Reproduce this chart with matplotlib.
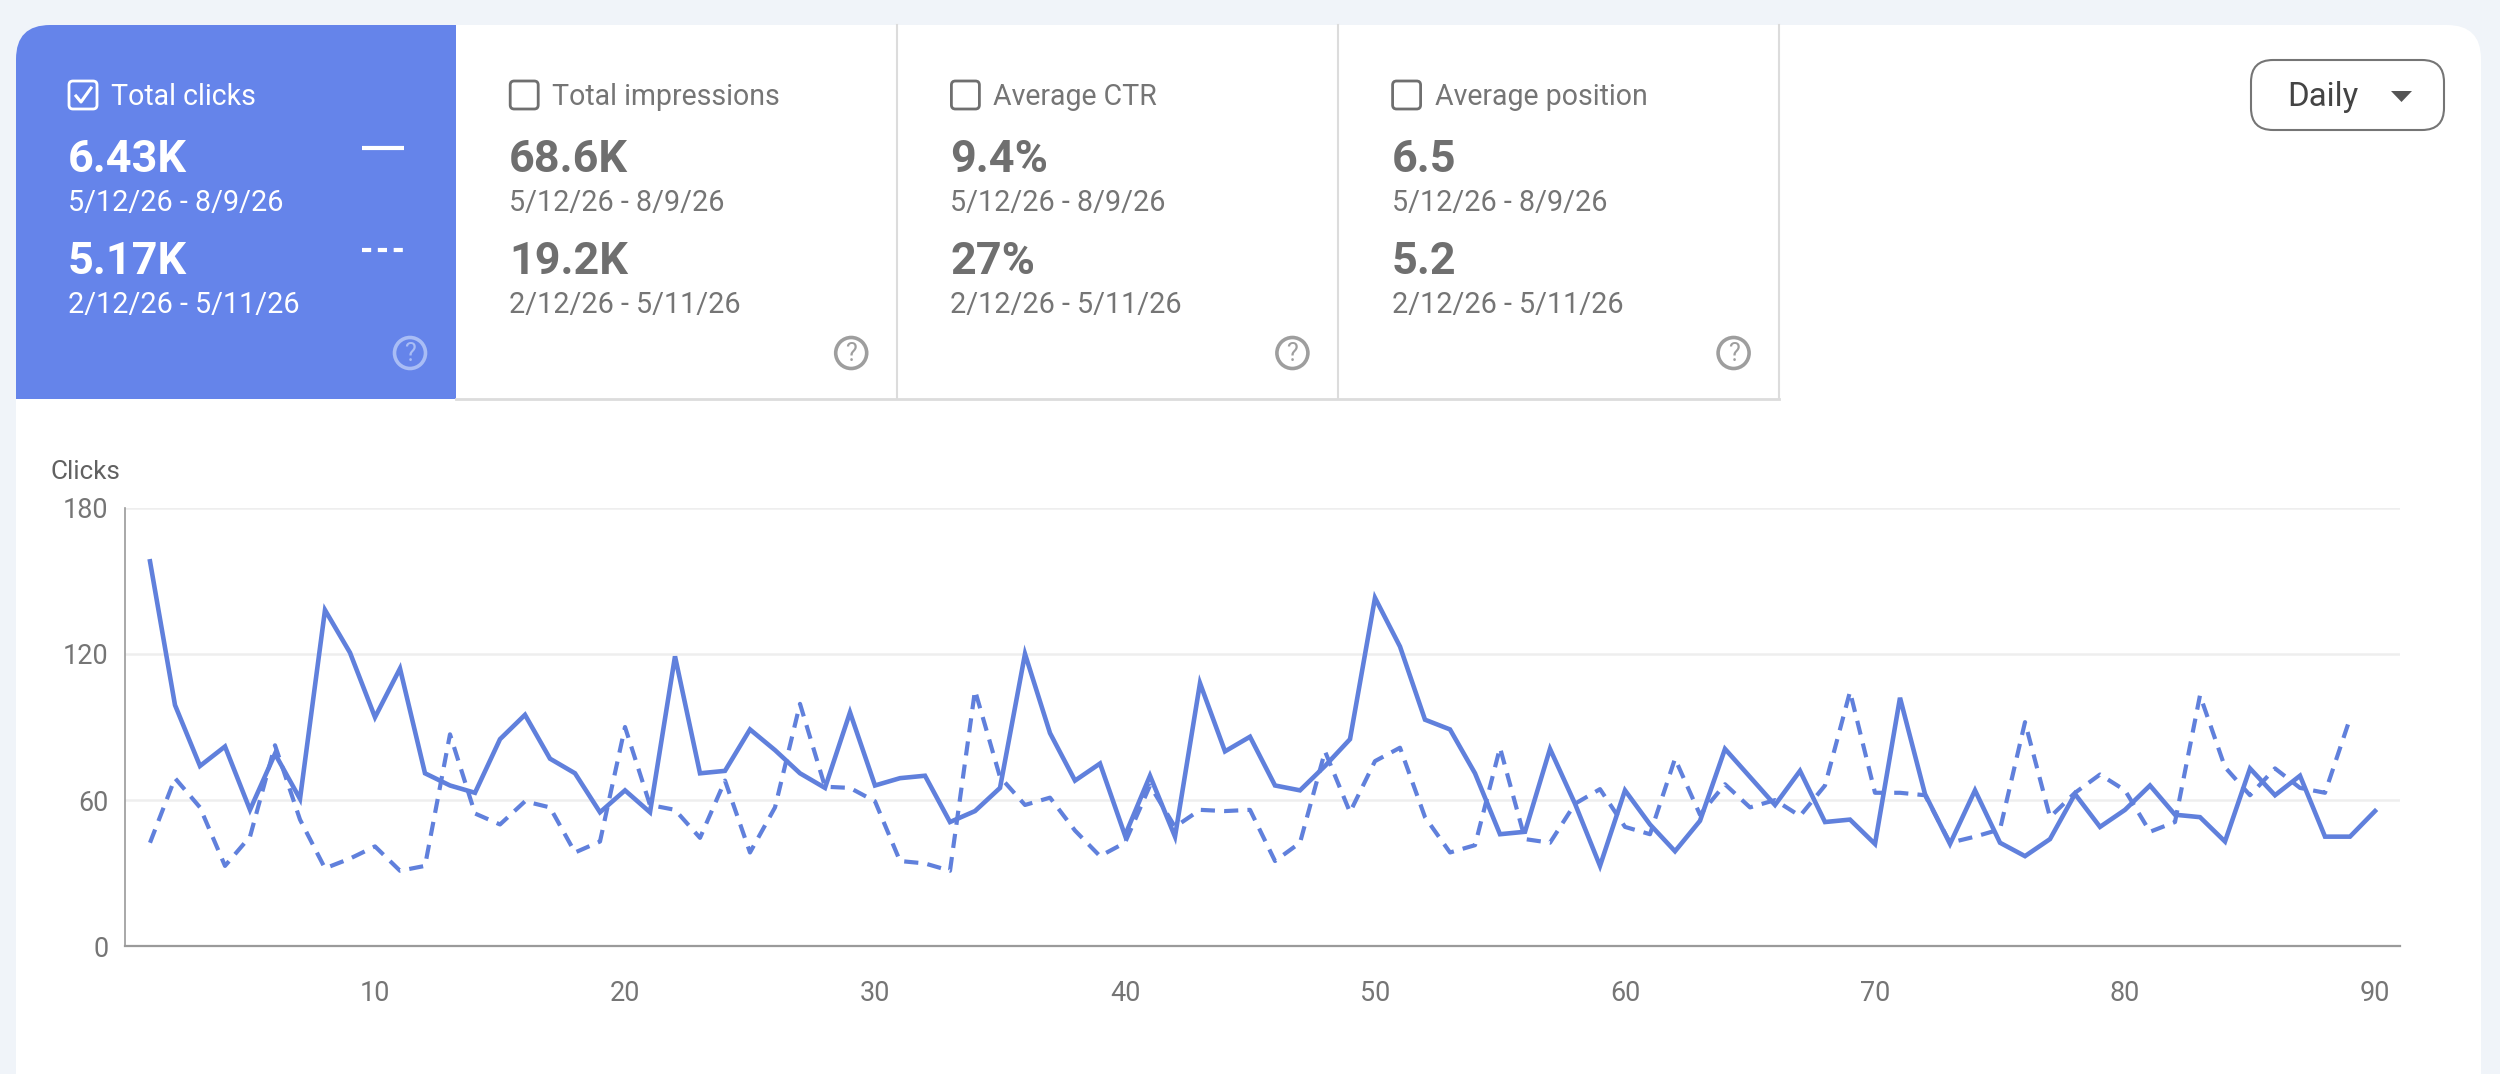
import matplotlib
matplotlib.use("Agg")
import matplotlib.pyplot as plt
from matplotlib.patches import FancyBboxPatch, Rectangle, Circle, Polygon

plt.rcParams["font.family"] = ["Roboto", "DejaVu Sans"]

# Clicks per day
dias_actual = list(range(1, 91))
clicks_actual = [
    158, 99, 74, 82, 56, 79, 60.5, 138, 120.5, 94,
    114, 71, 66, 63, 85, 95, 77, 71, 55, 64,
    55, 119, 71, 72, 89, 80.5, 71, 65, 96, 66,
    69, 70, 51, 55.5, 65, 120, 87.5, 68, 75, 45.5,
    70, 45, 108, 80, 86, 66, 64, 74, 85, 143,
    123, 93, 89, 71, 46, 47, 81, 58.5, 33, 64,
    50, 39, 51.5, 81, 69.5, 58, 72, 51, 52, 42,
    102, 62.5, 42, 64, 42.5, 37, 44, 62.5, 49, 56,
    66, 54, 53, 43, 73, 62, 70, 45, 45, 55.5,
]
dias_anterior = list(range(1, 90))
clicks_anterior = [
    42.5, 69, 57, 33, 45, 82.5, 52, 32, 36, 41,
    31, 33, 87, 54.5, 50, 59.5, 57, 38.5, 43, 90,
    58, 56, 44.5, 68, 38.5, 57, 99.5, 65.5, 65, 59.5,
    35, 34, 31, 105, 69.5, 58, 61, 47.5, 37, 42.5,
    66, 49, 56, 55.5, 56, 35, 42.5, 80, 55, 76,
    81.5, 53, 38.5, 41.5, 81.5, 44, 42.5, 58.5, 64.5, 49,
    46, 77, 54, 66.5, 57, 60, 53.5, 66, 104.5, 63,
    63, 62, 42.5, 45, 48, 92, 53, 63, 70.5, 64,
    47, 51, 103, 73.5, 62, 73, 65, 63, 93.5,
]
y_ticks = [0, 60, 120, 180]
x_ticks = [10, 20, 30, 40, 50, 60, 70, 80, 90]

titulos = ["Total clicks", "Total impressions", "Average CTR", "Average position"]
valores_actual = ["6.43K", "68.6K", "9.4%", "6.5"]
valores_anterior = ["5.17K", "19.2K", "27%", "5.2"]
rango_actual = "5/12/26 - 8/9/26"
rango_anterior = "2/12/26 - 5/11/26"

AZUL_LINEA = "#6080dc"
AZUL_CARD = "#6584ea"
FONDO = "#f0f4f9"
GRIS = "#6f6f6f"
GRIS_TEXTO = "#757575"


def px(size):
    # tamaño en pixeles a puntos (dpi 100)
    return size * 0.72


fig = plt.figure(figsize=(25, 10.74), dpi=100, facecolor=FONDO)

# capa en pixeles para la parte de interfaz
ui = fig.add_axes([0, 0, 1, 1])
ui.set_xlim(0, 2500)
ui.set_ylim(1074, 0)
ui.axis("off")

# panel blanco
ui.add_patch(FancyBboxPatch((16 + 34, 25 + 34), 2465 - 68, 1200, boxstyle="round,pad=34,rounding_size=34",
                            fc="white", ec="none"))
# tarjeta azul: solo se ve la esquina superior izquierda redondeada
card = FancyBboxPatch((16 + 34, 25 + 34), 500, 400, boxstyle="round,pad=34,rounding_size=34",
                      fc=AZUL_CARD, ec="none")
ui.add_patch(card)
card.set_clip_path(Rectangle((16, 25), 440, 374, transform=ui.transData))

# bordes de las tarjetas
for i in range(1, 4):
    xb = 456 + 441 * i
    ui.plot([xb, xb], [25, 399], color="#dcdcdc", lw=1.5)
ui.plot([456, 1779], [399, 399], color="#dcdcdc", lw=2)

for i in range(4):
    x0 = 68 + 441.2 * i
    activo = i == 0
    col_titulo = "white" if activo else GRIS_TEXTO
    col_valor = "white" if activo else GRIS
    col_rango = "white" if activo else GRIS_TEXTO

    # checkbox
    ui.add_patch(FancyBboxPatch((x0 + 4, 84), 22, 22, boxstyle="round,pad=3,rounding_size=4",
                                fc="none", ec="white" if activo else GRIS, lw=2))
    if activo:
        ui.plot([x0 + 8, x0 + 13, x0 + 23], [96, 102, 88], color="white", lw=2.2)

    ui.text(x0 + 43, 97, titulos[i], color=col_titulo, fontsize=px(28.5), va="center", ha="left")
    ui.text(x0, 160, valores_actual[i], color=col_valor, fontsize=px(45), fontweight="bold", va="center", ha="left")
    ui.text(x0, 203, rango_actual, color=col_rango, fontsize=px(28.7), va="center", ha="left")
    ui.text(x0, 262, valores_anterior[i], color=col_valor, fontsize=px(45), fontweight="bold", va="center", ha="left")
    ui.text(x0, 305, rango_anterior, color=col_rango, fontsize=px(28.7), va="center", ha="left")

    # icono de ayuda
    col_ayuda = "#a9bdf5" if activo else "#9e9e9e"
    ui.add_patch(Circle((x0 + 342, 353), 15.5, fc="none", ec=col_ayuda, lw=2.6))
    ui.text(x0 + 342, 354, "?", color=col_ayuda, fontsize=px(25), va="center", ha="center")

# leyenda de la primera tarjeta
ui.plot([362, 404], [148, 148], color="white", lw=3, solid_capstyle="butt")
ui.plot([362, 403], [250, 250], color="white", lw=3, linestyle=(0, (2.2, 1.6)), dash_capstyle="butt")

# selector "Daily"
ui.add_patch(FancyBboxPatch((2251 + 22, 60 + 22), 193 - 44, 70 - 44, boxstyle="round,pad=22,rounding_size=22",
                            fc="white", ec="#757575", lw=1.5))
ui.text(2287, 97, "Daily", color="#444444", fontsize=px(33), va="center", ha="left")
ui.add_patch(Polygon([(2391, 91), (2412, 91), (2401.5, 102)], fc="#555555", ec="none"))

ui.text(51, 472, "Clicks", color="#616161", fontsize=px(26), va="center", ha="left")

# grafica
ax = fig.add_axes([125 / 2500, 1 - 946.3 / 1074, 2275 / 2500, (946.3 - 507.7) / 1074])
ax.patch.set_alpha(0)
ax.plot(dias_actual, clicks_actual, color=AZUL_LINEA, lw=3.3, solid_joinstyle="miter", zorder=3)
ax.plot(dias_anterior, clicks_anterior, color=AZUL_LINEA, lw=3.0, linestyle=(0, (3.4, 2.2)),
        dash_capstyle="butt", zorder=3)
ax.set_xlim(0, 91)
ax.set_ylim(0, 180)
ax.set_xticks(x_ticks)
ax.set_yticks(y_ticks)
ax.grid(axis="y", color="#eeeeee", lw=1.8)
ax.set_axisbelow(True)
ax.tick_params(length=0, labelsize=px(27), labelcolor=GRIS_TEXTO)
ax.tick_params(axis="y", pad=12)
ax.tick_params(axis="x", pad=24)
for lado in ["top", "right"]:
    ax.spines[lado].set_visible(False)
ax.spines["left"].set_color("#9a9a9a")
ax.spines["bottom"].set_color("#9a9a9a")
ax.spines["left"].set_linewidth(1.2)
ax.spines["bottom"].set_linewidth(1.6)

fig.savefig("out.png", dpi=100, facecolor=FONDO)
plt.close(fig)
